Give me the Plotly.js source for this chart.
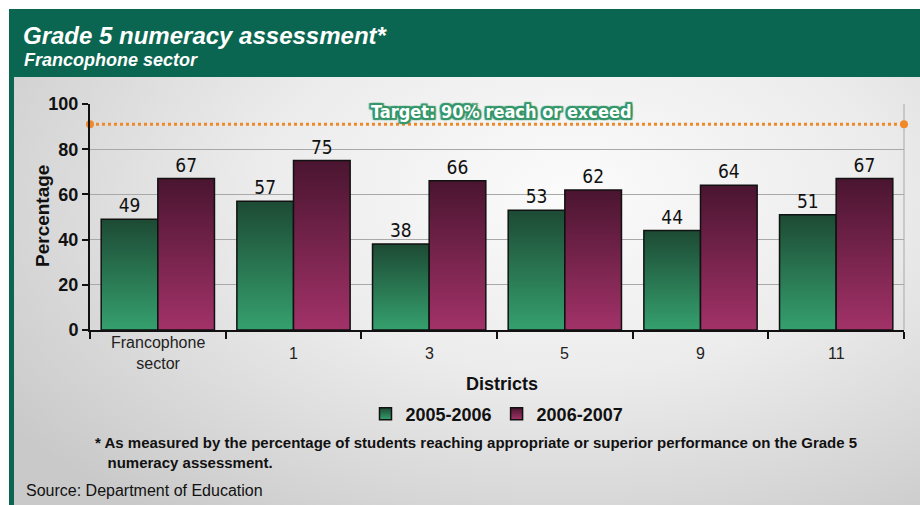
<!DOCTYPE html>
<html>
<head>
<meta charset="utf-8">
<script src="https://cdn.plot.ly/plotly-3.0.1.min.js"></script>
<style>
  html, body { margin: 0; padding: 0; background: #fff; }
  #chart {
    width: 920px; height: 505px;
    background:
      linear-gradient(#fff, #fff) 0 0 / 920px 9px no-repeat,
      linear-gradient(#fff, #fff) 0 0 / 9px 505px no-repeat,
      radial-gradient(ellipse 75% 80% at 62% 38%, #fbfbfb 0%, #ececec 45%, #c9c9c9 100%);
  }
</style>
</head>
<body>
<div id="chart"></div>
<script>
// data
const districts = ['Francophone<br>sector', '1', '3', '5', '9', '11'];
const year1 = [49, 57, 38, 53, 44, 51];  // 2005-2006
const year2 = [67, 75, 66, 62, 64, 67];  // 2006-2007
const seriesNames = ['2005-2006', '2006-2007'];
const target = 91;
const targetLabel = 'Target: 90% reach or exceed';

// plot area in pixels, used to place the frame pieces
const L = 90, R = 904, T = 104, B = 330;
const px = x => (x - L) / (R - L);
const py = y => (B - y) / (B - T);

const narrow = '"DejaVu Sans Condensed", "Liberation Sans Narrow", sans-serif';
const arial = 'Arial, "Liberation Sans", sans-serif';

const bar1 = {
    x: districts, y: year1, type: 'bar', name: seriesNames[0],
    marker: { color: '#2b7a52', line: { color: '#111', width: 1.5 } },
    text: year1, textposition: 'outside', cliponaxis: false,
    textfont: { family: narrow, size: 19, color: '#111' }
};
const bar2 = {
    x: districts, y: year2, type: 'bar', name: seriesNames[1],
    marker: { color: '#71244f', line: { color: '#111', width: 1.5 } },
    text: year2, textposition: 'outside', cliponaxis: false,
    textfont: { family: narrow, size: 19, color: '#111' }
};
// target line spans the whole plot width, so it lives on a hidden 0..1 axis
const targetLine = {
    x: [0, 1], y: [target, target], xaxis: 'x2', type: 'scatter', mode: 'lines+markers',
    line: { color: '#f0892a', width: 3, dash: 'dot' },
    marker: { color: '#f0892a', size: 8 },
    showlegend: false, hoverinfo: 'skip', cliponaxis: false
};

const green = '#0a6650';
const outline = ['2px 0', '-2px 0', '0 2px', '0 -2px', '2px 2px', '-2px -2px', '2px -2px', '-2px 2px']
    .map(s => s + ' 1px #34966a').join(', ');

// category labels, centred on each group as in the original (x = category index)
const catLabels = districts.map((d, i) => ({
    text: d, xref: 'x', yref: 'paper', x: i, y: py(353), xanchor: 'center', yanchor: 'middle',
    showarrow: false, font: { family: arial, size: 16, color: '#222' }
}));

const layout = {
    width: 920, height: 505,
    margin: { l: L, r: 920 - R, t: T, b: 505 - B },
    paper_bgcolor: 'rgba(0,0,0,0)', plot_bgcolor: 'rgba(0,0,0,0)',
    barmode: 'group', bargap: 0.165, bargroupgap: 0,
    showlegend: true,
    legend: {
        orientation: 'h', x: px(497), xanchor: 'center', y: py(414), yanchor: 'middle',
        font: { family: arial, size: 18, color: '#111', weight: 'bold' },
        itemwidth: 30, traceorder: 'normal'
    },
    xaxis: {
        type: 'category', range: [-0.5, districts.length - 0.5],
        tickson: 'boundaries', ticks: 'outside', ticklen: 7, tickwidth: 2,
        tickcolor: '#111', showline: true, linecolor: '#111', linewidth: 2,
        showticklabels: false, fixedrange: true
    },
    xaxis2: { overlaying: 'x', range: [0, 1], visible: false, fixedrange: true },
    yaxis: {
        range: [0, 100], dtick: 20, ticks: 'outside', ticklen: 6, tickwidth: 2, tickcolor: '#111',
        showline: true, linecolor: '#111', linewidth: 2,
        showgrid: true, gridcolor: '#a8a8a8', gridwidth: 1, zeroline: false,
        tickfont: { family: arial, size: 18, color: '#111', weight: 'bold' },
        fixedrange: true
    },
    shapes: [
        // green header band and left strip
        { type: 'rect', xref: 'paper', yref: 'paper', layer: 'below',
          x0: px(9), x1: px(920), y0: py(77), y1: py(9), fillcolor: green, line: { width: 0 } },
        { type: 'rect', xref: 'paper', yref: 'paper', layer: 'below',
          x0: px(9), x1: px(14), y0: py(505), y1: py(9), fillcolor: green, line: { width: 0 } },
        // thin right border of the plot
        { type: 'line', xref: 'paper', yref: 'paper', x0: 1, x1: 1, y0: 0, y1: 1,
          line: { color: '#a8a8a8', width: 1 }, layer: 'below' }
    ],
    annotations: catLabels.concat([
        { text: '<i><b>Grade 5 numeracy assessment*</b></i>', xref: 'paper', yref: 'paper',
          x: px(21), y: py(35), xanchor: 'left', yanchor: 'middle', showarrow: false,
          font: { family: arial, size: 24, color: '#fff' } },
        { text: '<i><b>Francophone sector</b></i>', xref: 'paper', yref: 'paper',
          x: px(22), y: py(60), xanchor: 'left', yanchor: 'middle', showarrow: false,
          font: { family: arial, size: 18, color: '#fff' } },
        { text: '<b>Percentage</b>', xref: 'paper', yref: 'paper', textangle: -90,
          x: px(42), y: py(216), xanchor: 'center', yanchor: 'middle', showarrow: false,
          font: { family: arial, size: 19, color: '#111' } },
        { text: '<b>Districts</b>', xref: 'paper', yref: 'paper',
          x: px(502), y: py(384), xanchor: 'center', yanchor: 'middle', showarrow: false,
          font: { family: arial, size: 18, color: '#111' } },
        { text: '<b>' + targetLabel + '</b>', xref: 'paper', yref: 'paper',
          x: px(501), y: py(111), xanchor: 'center', yanchor: 'middle', showarrow: false,
          font: { family: narrow, size: 18, color: '#fff', shadow: outline } },
        { text: '<b>* As measured by the percentage of students reaching appropriate or superior performance on the Grade 5<br>   numeracy assessment.</b>',
          xref: 'paper', yref: 'paper', x: px(93), y: py(432), xanchor: 'left', yanchor: 'top',
          align: 'left', showarrow: false, font: { family: arial, size: 15, color: '#111' } },
        { text: 'Source: Department of Education', xref: 'paper', yref: 'paper',
          x: px(24), y: py(490), xanchor: 'left', yanchor: 'middle', showarrow: false,
          font: { family: arial, size: 16, color: '#111' } }
    ])
};

// vertical gradients for the bars (Plotly bars only take flat colours)
function addGradients(gd) {
    const svg = gd.querySelector('svg.main-svg');
    const ns = 'http://www.w3.org/2000/svg';
    let defs = svg.querySelector('defs');
    const grads = { gGreen: ['#1d4a34', '#35a06e'], gPlum: ['#4a1530', '#a23268'] };
    for (const id in grads) {
        const lg = document.createElementNS(ns, 'linearGradient');
        lg.setAttribute('id', id);
        lg.setAttribute('x1', 0); lg.setAttribute('y1', 0);
        lg.setAttribute('x2', 0); lg.setAttribute('y2', 1);
        grads[id].forEach((c, i) => {
            const st = document.createElementNS(ns, 'stop');
            st.setAttribute('offset', i);
            st.setAttribute('stop-color', c);
            lg.appendChild(st);
        });
        defs.appendChild(lg);
    }
    const traces = gd.querySelectorAll('.barlayer .trace');
    traces.forEach((t, i) => {
        t.querySelectorAll('path').forEach(p => p.style.fill = i === 0 ? 'url(#gGreen)' : 'url(#gPlum)');
    });
    const legendPts = gd.querySelectorAll('.legend .traces');
    legendPts.forEach((t, i) => {
        t.querySelectorAll('.legendpoints path').forEach(p => p.style.fill = i === 0 ? 'url(#gGreen)' : 'url(#gPlum)');
    });
}

Plotly.newPlot('chart', [bar1, bar2, targetLine], layout, { displayModeBar: false, staticPlot: true })
    .then(addGradients);
</script>
</body>
</html>
